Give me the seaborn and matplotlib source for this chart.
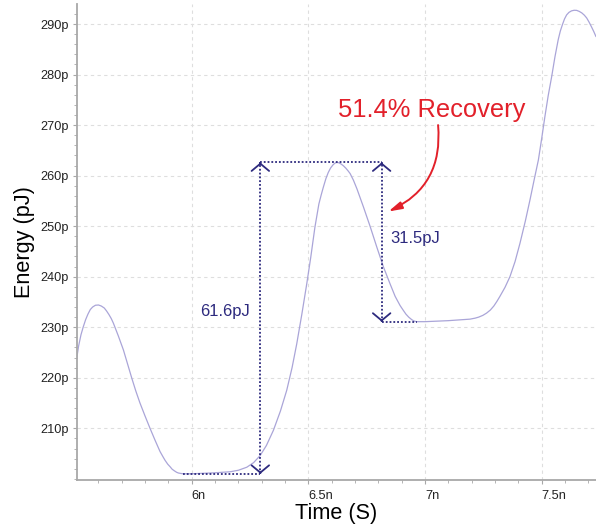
import matplotlib
matplotlib.use("Agg")
import matplotlib.pyplot as plt
import seaborn as sns
import pandas as pd
import numpy as np

# ---- data (time in ns, energy in pJ) ----
time_ns = [5.507, 5.515, 5.525, 5.535, 5.545, 5.555, 5.565, 5.575, 5.587, 5.600,
           5.612, 5.625, 5.635, 5.645, 5.655, 5.664, 5.685, 5.707, 5.725, 5.743,
           5.760, 5.778, 5.800, 5.821, 5.843, 5.864, 5.875, 5.885, 5.897, 5.907,
           5.916, 5.925, 5.935, 5.943, 5.955, 5.965, 6.000, 6.050, 6.100, 6.165,
           6.200, 6.236, 6.265, 6.293, 6.320, 6.350, 6.380, 6.407, 6.430, 6.450,
           6.472, 6.493, 6.510, 6.528, 6.545, 6.555, 6.564, 6.575, 6.585, 6.595,
           6.605, 6.613, 6.621, 6.630, 6.640, 6.650, 6.660, 6.670, 6.679, 6.693,
           6.708, 6.736, 6.765, 6.793, 6.822, 6.850, 6.872, 6.893, 6.906, 6.918,
           6.930, 6.943, 6.952, 6.962, 7.000, 7.100, 7.193, 7.215, 7.230, 7.248,
           7.264, 7.280, 7.295, 7.308, 7.321, 7.343, 7.364, 7.386, 7.407, 7.430,
           7.450, 7.468, 7.486, 7.500, 7.514, 7.528, 7.543, 7.557, 7.571, 7.580,
           7.590, 7.598, 7.607, 7.617, 7.628, 7.639, 7.650, 7.661, 7.672, 7.683,
           7.693, 7.703, 7.713, 7.723, 7.733]
energy_pj = [223.9, 226.3, 228.5, 230.1, 231.5, 232.6, 233.5, 234.0, 234.35, 234.4,
             234.2, 233.8, 233.2, 232.5, 231.7, 230.8, 228.3, 225.5, 222.7, 219.9,
             217.4, 215.0, 212.4, 210.0, 207.6, 205.4, 204.5, 203.7, 202.9, 202.4,
             201.9, 201.6, 201.3, 201.15, 201.05, 201.0, 201.0, 201.1, 201.2, 201.4,
             201.7, 202.3, 203.2, 204.6, 206.6, 209.6, 213.4, 217.5, 222.0, 226.7,
             232.6, 238.6, 243.8, 249.8, 254.4, 256.2, 257.7, 259.4, 260.6, 261.5,
             262.1, 262.45, 262.6, 262.55, 262.3, 261.95, 261.5, 260.95, 260.4, 259.1,
             257.4, 253.8, 249.9, 245.9, 241.9, 238.6, 236.1, 234.3, 233.4, 232.6,
             232.0, 231.5, 231.25, 231.1, 231.1, 231.3, 231.6, 231.8, 232.0, 232.35,
             232.8, 233.4, 234.2, 235.1, 236.1, 237.9, 240.0, 243.0, 246.6, 251.0,
             255.2, 259.2, 263.1, 267.3, 271.7, 275.8, 279.6, 283.5, 286.9, 288.6,
             290.0, 291.0, 291.8, 292.3, 292.6, 292.72, 292.7, 292.5, 292.2, 291.75,
             291.2, 290.4, 289.5, 288.55, 287.5]

x_ticks = [6.0, 6.5, 7.0, 7.5]
x_tick_labels = ["6n", "6.5n", "7n", "7.5n"]
y_ticks = [210, 220, 230, 240, 250, 260, 270, 280, 290]
y_tick_labels = ["210p", "220p", "230p", "240p", "250p", "260p", "270p", "280p", "290p"]

# measurement annotation values
peak_level = 262.6
low_level_1 = 201.0
low_level_2 = 231.1
meas_t1 = 6.294
meas_t2 = 6.814
low1_start = 5.964
low2_end = 6.965
drop_label = "61.6pJ"
recovery_label = "31.5pJ"
headline = "51.4% Recovery"

df = pd.DataFrame({"Time": time_ns, "Energy": energy_pj})

sns.set_theme(style="white")
plt.rcParams["font.family"] = ["Liberation Sans", "DejaVu Sans"]

curve_color = "#aaa5d8"
navy = "#2d2a7e"
red = "#e2202a"
spine_color = "#a8a8a8"

fig = plt.figure(figsize=(5.96, 5.25), dpi=100)
ax = fig.add_axes([77 / 596, 45 / 525, 1 - 77 / 596, 476 / 525])

sns.lineplot(data=df, x="Time", y="Energy", ax=ax, color=curve_color, linewidth=0.9)

ax.set_xlim(5.508, 7.733)
ax.set_ylim(199.77, 293.96)

ax.set_xticks(x_ticks)
ax.set_xticklabels(x_tick_labels)
ax.set_yticks(y_ticks)
ax.set_yticklabels(y_tick_labels)
ax.set_xticks(np.arange(5.6, 7.75, 0.1), minor=True)
ax.set_yticks(np.arange(200, 294, 2), minor=True)

for lab in ax.get_xticklabels():
    lab.set_horizontalalignment("left")

ax.tick_params(axis="both", which="major", length=3, width=0.8, color=spine_color,
               labelsize=9.2, labelcolor="#222222", direction="out")
ax.tick_params(axis="both", which="minor", length=2.5, width=0.6, color=spine_color,
               direction="out")
ax.tick_params(axis="x", which="major", pad=4)
ax.tick_params(axis="y", which="major", pad=3)
ax.tick_params(bottom=True, left=True, which="both")

ax.grid(True, which="major", color="#dedede", linestyle=(0, (3, 3)), linewidth=0.8)
ax.set_axisbelow(True)

for side in ["top", "right"]:
    ax.spines[side].set_visible(False)
for side in ["left", "bottom"]:
    ax.spines[side].set_color(spine_color)
    ax.spines[side].set_linewidth(1.3)

ax.set_xlabel("Time (S)", fontsize=15.6, color="black", labelpad=1)
ax.set_ylabel("Energy (pJ)", fontsize=15.6, color="black", labelpad=4)

# dotted measurement lines
dot = (0, (1, 1.1))
ax.vlines(meas_t1, low_level_1, peak_level, colors=navy, linestyles=[dot], linewidth=1.3)
ax.vlines(meas_t2, low_level_2, peak_level, colors=navy, linestyles=[dot], linewidth=1.3)
ax.hlines(low_level_1, low1_start, meas_t1, colors=navy, linestyles=[dot], linewidth=1.3)
ax.hlines(peak_level, meas_t1, meas_t2, colors=navy, linestyles=[dot], linewidth=1.3)
ax.hlines(low_level_2, meas_t2, low2_end, colors=navy, linestyles=[dot], linewidth=1.3)

# open chevron heads
chev = dict(arrowstyle="->,head_length=0.75,head_width=0.9", mutation_scale=7,
            color=navy, lw=1.3, shrinkA=0, shrinkB=0)
ax.annotate("", xy=(meas_t1, peak_level), xytext=(meas_t1, peak_level - 0.3), arrowprops=chev)
ax.annotate("", xy=(meas_t1, low_level_1), xytext=(meas_t1, low_level_1 + 0.3), arrowprops=chev)
ax.annotate("", xy=(meas_t2, peak_level), xytext=(meas_t2, peak_level - 0.3), arrowprops=chev)
ax.annotate("", xy=(meas_t2, low_level_2), xytext=(meas_t2, low_level_2 + 0.3), arrowprops=chev)

ax.text(6.143, 233.2, drop_label, color=navy, fontsize=12, ha="center", va="center")
ax.text(6.853, 247.6, recovery_label, color=navy, fontsize=12, ha="left", va="center")
ax.text(7.028, 272.9, headline, color=red, fontsize=18.4, ha="center", va="center")

ax.annotate("", xy=(6.843, 252.9), xytext=(7.056, 270.0),
            arrowprops=dict(arrowstyle="-|>,head_length=0.8,head_width=0.22",
                            mutation_scale=10, color=red, lw=1.4,
                            connectionstyle="arc3,rad=-0.35", shrinkA=0, shrinkB=0))

fig.savefig("out.png", dpi=100)
